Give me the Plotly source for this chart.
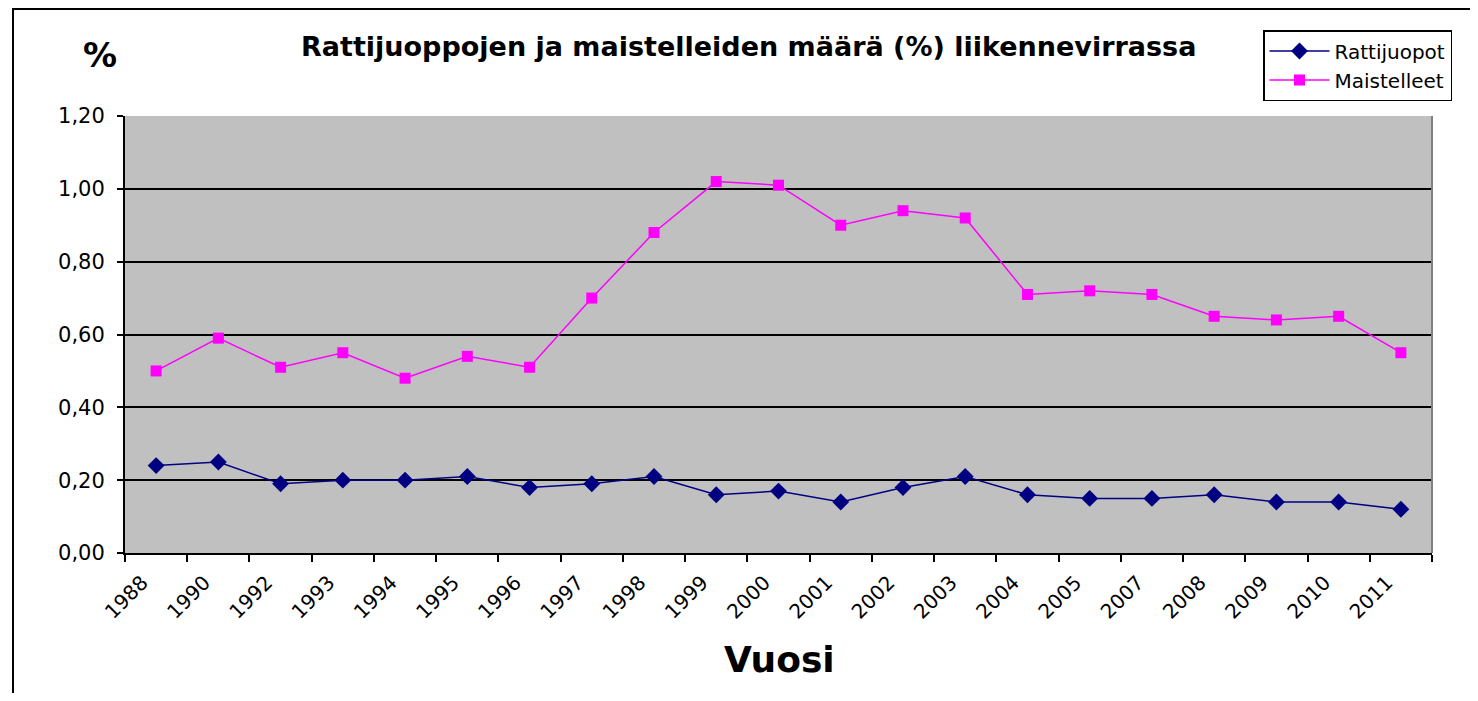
import plotly.graph_objects as go

years = ["1988", "1990", "1992", "1993", "1994", "1995", "1996", "1997", "1998", "1999",
         "2000", "2001", "2002", "2003", "2004", "2005", "2007", "2008", "2009", "2010", "2011"]
rattijuopot = [0.24, 0.25, 0.19, 0.20, 0.20, 0.21, 0.18, 0.19, 0.21, 0.16,
               0.17, 0.14, 0.18, 0.21, 0.16, 0.15, 0.15, 0.16, 0.14, 0.14, 0.12]
maistelleet = [0.50, 0.59, 0.51, 0.55, 0.48, 0.54, 0.51, 0.70, 0.88, 1.02,
               1.01, 0.90, 0.94, 0.92, 0.71, 0.72, 0.71, 0.65, 0.64, 0.65, 0.55]
y_tickvals = [0.0, 0.2, 0.4, 0.6, 0.8, 1.0, 1.2]
y_ticktext = ["0,00", "0,20", "0,40", "0,60", "0,80", "1,00", "1,20"]

FONT = "DejaVu Sans, Arial, sans-serif"

fig = go.Figure()
fig.add_trace(go.Scatter(
    x=years, y=rattijuopot, name="Rattijuopot", mode="lines+markers",
    line=dict(color="#000080", width=1.5),
    marker=dict(symbol="diamond", size=13, color="#000080"),
))
fig.add_trace(go.Scatter(
    x=years, y=maistelleet, name="Maistelleet", mode="lines+markers",
    line=dict(color="#FF00FF", width=1.5),
    marker=dict(symbol="square", size=11, color="#FF00FF"),
))

# page offset from body margin
OFF = 8
FW, FH = 1478 - 2 * OFF, 701 - 2 * OFF
# plot area in page coordinates
L, R, T, B = 125, 1432, 116, 553
W = R - L
H = B - T

def px(x):
    return (x - L) / W

def py(y):
    return (B - y) / H

fig.update_layout(
    width=FW, height=FH,
    margin=dict(l=L - OFF, r=FW - (R - OFF), t=T - OFF, b=FH - (B - OFF), pad=0),
    paper_bgcolor="white",
    plot_bgcolor="#C0C0C0",
    font=dict(family=FONT, size=20, color="black"),
    showlegend=True,
    legend=dict(
        x=px(1263), y=py(30), xanchor="left", yanchor="top",
        bordercolor="black", borderwidth=1.5, bgcolor="white",
        font=dict(family=FONT, size=20, color="black"),
        tracegroupgap=0, itemwidth=60,
    ),
    xaxis=dict(
        type="category", categoryorder="array", categoryarray=years,
        tickson="boundaries", ticks="outside", ticklen=7, tickwidth=2, tickcolor="black",
        showline=True, linecolor="black", linewidth=2,
        showgrid=False, tickangle=-45,
        tickfont=dict(family=FONT, size=20, color="black"),
        range=[-0.5, len(years) - 0.5],
        ticklabelshift=-14, ticklabelstandoff=8,
    ),
    yaxis=dict(
        range=[0, 1.2], tickvals=y_tickvals, ticktext=y_ticktext,
        ticks="outside", ticklen=6, tickwidth=2, tickcolor="black",
        showline=True, linecolor="black", linewidth=2,
        showgrid=True, gridcolor="black", gridwidth=1.5,
        zeroline=False,
        tickfont=dict(family=FONT, size=21, color="black"),
        ticklabelstandoff=8,
    ),
    annotations=[
        dict(text="<b>Rattijuoppojen ja maistelleiden määrä (%) liikennevirrassa</b>",
             xref="paper", yref="paper", x=px(748), y=py(47),
             xanchor="center", yanchor="middle", showarrow=False,
             font=dict(family=FONT, size=27, color="black")),
        dict(text="<b>%</b>", xref="paper", yref="paper", x=px(100), y=py(55),
             xanchor="center", yanchor="middle", showarrow=False,
             font=dict(family=FONT, size=34, color="black")),
        dict(text="<b>Vuosi</b>", xref="paper", yref="paper", x=px(779), y=py(659),
             xanchor="center", yanchor="middle", showarrow=False,
             font=dict(family=FONT, size=36, color="black")),
    ],
    shapes=[
        dict(type="rect", xref="paper", yref="paper",
             x0=px(13), x1=px(1495), y0=py(720), y1=py(9),
             line=dict(color="black", width=2), fillcolor="rgba(0,0,0,0)", layer="above"),
        dict(type="line", xref="paper", yref="paper",
             x0=1, x1=1, y0=0, y1=1,
             line=dict(color="#808080", width=2), layer="above"),
    ],
)

fig.write_html("out.html")
